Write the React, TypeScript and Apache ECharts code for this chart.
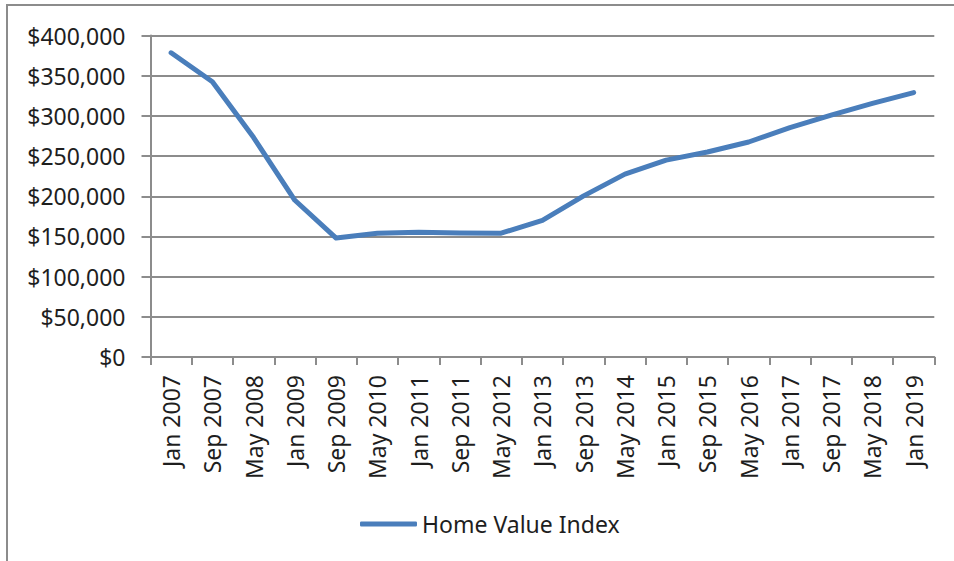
import React, { useEffect, useRef } from "react";
import * as echarts from "echarts";

const categories = [
  "Jan 2007", "Sep 2007", "May 2008", "Jan 2009", "Sep 2009", "May 2010",
  "Jan 2011", "Sep 2011", "May 2012", "Jan 2013", "Sep 2013", "May 2014",
  "Jan 2015", "Sep 2015", "May 2016", "Jan 2017", "Sep 2017", "May 2018", "Jan 2019",
];

const homeValueIndex = [
  378500, 342500, 273000, 195000, 148000, 154000,
  155200, 154200, 154000, 170000, 200500, 227500,
  245000, 255000, 267500, 285500, 301000, 315500, 329000,
];

const seriesName = "Home Value Index";
const yMin = 0;
const yMax = 400000;
const yInterval = 50000;

const FONT = "'Noto Sans', 'Open Sans', sans-serif";
const TEXT_COLOR = "#1e1e1e";
const GRID_COLOR = "#8c8c8c";
const LINE_COLOR = "#4a7ebb";

export default function App() {
  const ref = useRef<HTMLDivElement>(null);

  useEffect(() => {
    if (!ref.current) return;
    const chart = echarts.init(ref.current, undefined, { renderer: "svg" });
    chart.setOption({
      animation: false,
      backgroundColor: "#ffffff",
      textStyle: { fontFamily: FONT },
      graphic: [
        {
          type: "rect",
          shape: { x: 7, y: 5, width: 1000, height: 700 },
          style: { fill: "none", stroke: GRID_COLOR, lineWidth: 2 },
          silent: true,
          z: -1,
        },
      ],
      grid: { left: 150.5, right: 19.7, top: 35.5, bottom: 204, containLabel: false },
      xAxis: {
        type: "category",
        data: categories,
        boundaryGap: true,
        axisLine: { show: true, lineStyle: { color: GRID_COLOR, width: 2 } },
        axisTick: { show: true, interval: 0, length: 8, lineStyle: { color: GRID_COLOR, width: 2 } },
        axisLabel: {
          interval: 0,
          rotate: 90,
          margin: 18,
          color: TEXT_COLOR,
          fontFamily: FONT,
          fontSize: 23,
        },
        splitLine: { show: false },
      },
      yAxis: {
        type: "value",
        min: yMin,
        max: yMax,
        interval: yInterval,
        axisLine: { show: true, lineStyle: { color: GRID_COLOR, width: 2 } },
        axisTick: { show: true, length: 9, lineStyle: { color: GRID_COLOR, width: 2 } },
        axisLabel: {
          margin: 25,
          color: TEXT_COLOR,
          fontFamily: FONT,
          fontSize: 23,
          formatter: (v: number) => "$" + v.toLocaleString("en-US"),
        },
        splitLine: { show: true, lineStyle: { color: GRID_COLOR, width: 2 } },
      },
      legend: {
        show: true,
        left: 360,
        top: 510,
        padding: 0,
        icon: "roundRect",
        itemWidth: 57,
        itemHeight: 5,
        itemGap: 10,
        textStyle: { color: TEXT_COLOR, fontFamily: FONT, fontSize: 23, lineHeight: 28 },
        data: [seriesName],
      },
      series: [
        {
          name: seriesName,
          type: "line",
          data: homeValueIndex,
          showSymbol: false,
          symbol: "none",
          itemStyle: { color: LINE_COLOR },
          lineStyle: { color: LINE_COLOR, width: 5, cap: "round", join: "round" },
        },
      ],
    });
    return () => chart.dispose();
  }, []);

  return (
    <div
      ref={ref}
      style={{ position: "absolute", left: 0, top: 0, width: 954, height: 561 }}
    />
  );
}
